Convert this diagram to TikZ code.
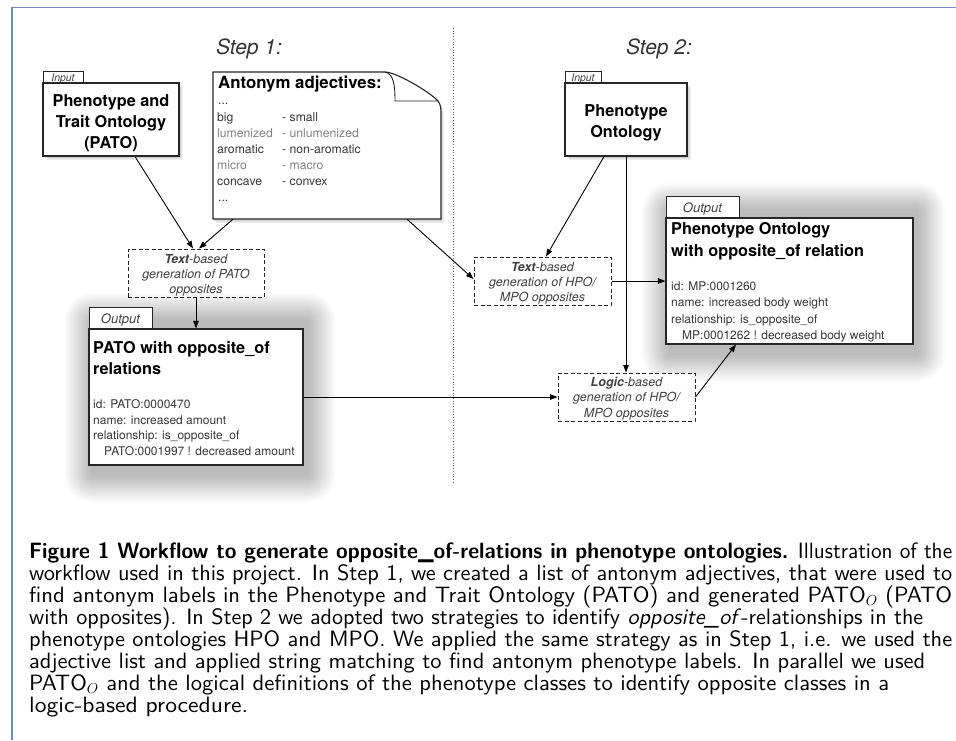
\documentclass[tikz,border=0pt]{standalone}
\usepackage{fontspec}
\usepackage{graphicx}
\newfontfamily\hv{TeX Gyre Heros}
\newfontfamily\capf{lmsans10-regular.otf}[BoldFont=lmsans10-bold.otf,ItalicFont=lmsans10-oblique.otf]
\usetikzlibrary{arrows.meta,fit,calc}
\definecolor{framec}{RGB}{110,140,185}
\definecolor{txt}{RGB}{55,55,55}
\definecolor{ltxt}{RGB}{130,130,130}
\definecolor{dtxt}{RGB}{65,65,65}
\newcommand\sshadow[4]{\foreach \s in {1,2,3,4}{\fill[black,opacity=0.06] (#1+\s,#2+\s) rectangle (#3+\s,#4+\s);}}
\newcommand\bshadow[4]{\foreach \s in {1,...,14}{\pgfmathsetmacro\r{2*\s}\fill[black,opacity=0.018,rounded corners=\r pt] (#1-\r+4,#2-\r+11) rectangle (#3+\r+4,#4+\r+9);}}
\newcommand\capline[2]{\resizebox{#1pt}{\height}{#2}}
\begin{document}
\begin{tikzpicture}[x=1pt,y=-1pt,
  box/.style={draw=black!85, line width=1.1pt, fill=white, inner sep=0pt},
  dbox/.style={draw=black!85, dash pattern=on 4pt off 2.5pt, line width=1pt, fill=white, inner sep=0pt},
  tabbox/.style={draw=black!85, line width=0.9pt, fill=white, inner sep=0pt},
  arr/.style={-{Triangle[length=7.5pt,width=5.5pt]}, line width=0.9pt, black},
  steplbl/.style={font=\hv\itshape\fontsize{21}{24}\selectfont, text=black!80, anchor=base, inner sep=0pt},
  ttl/.style={font=\hv\bfseries\fontsize{16.3}{20}\selectfont, anchor=base, inner sep=0pt},
  ttlw/.style={ttl, anchor=base west},
  intab/.style={font=\hv\itshape\fontsize{10.5}{12}\selectfont, text=black!75, anchor=base, inner sep=0pt},
  otab/.style={font=\hv\itshape\fontsize{13}{15}\selectfont, text=black!75, anchor=base, inner sep=0pt},
  bodyt/.style={font=\hv\fontsize{12}{14}\selectfont, text=txt, anchor=base west, inner sep=0pt},
  listt/.style={font=\hv\fontsize{12.2}{14}\selectfont, anchor=base west, inner sep=0pt},
  dtext/.style={font=\hv\itshape\fontsize{12.5}{14}\selectfont, text=dtxt, anchor=base, inner sep=0pt},
  captxt/.style={font=\capf\fontsize{22.2}{22}\selectfont, anchor=base west, inner sep=0pt}]
\useasboundingbox (0,0) rectangle (956,740);
\fill[white] (0,0) rectangle (956,740);
% frame
\draw[framec,line width=1.2pt] (12,740) -- (12,7.5) -- (956,7.5);
% divider
\draw[black!60, line width=0.9pt, dash pattern=on 0.9pt off 1.8pt] (453,28) -- (453,482);
% step labels
\node[steplbl] (step1) at (249,54) {Step 1:};
\node[steplbl] (step2) at (659,54) {Step 2:};

% ---- PATO input
\sshadow{43}{83}{179}{156}
\node[tabbox, fit={(43,71)(83,83)}] (patoinTab) {};
\node[intab] (patoinTabT) at (63,81) {Input};
\node[box, fit={(43,83)(179,156)}] (patoin) {};
\node[ttl] (patoin1) at (111,106) {Phenotype and};
\node[ttl] (patoin2) at (111,127) {Trait Ontology};
\node[ttl] (patoin3) at (111,148) {(PATO)};

% ---- Antonym note
\foreach \s in {1,2,3}{\fill[black,opacity=0.06,shift={(\s,\s+1)}] (213,72) -- (385,72) .. controls (396,72) and (430,92) .. (438,101) .. controls (441,105) and (441,109) .. (441,115) -- (441,219) -- (213,219) -- cycle;}
\draw[black!85,fill=white,line width=1.1pt] (213,72) -- (385,72) .. controls (396,72) and (430,92) .. (438,101) .. controls (441,105) and (441,109) .. (441,115) -- (441,219) -- (213,219) -- cycle;
\draw[black!85,line width=0.9pt] (385,72) .. controls (394,74) and (395,86) .. (395,101) -- (438,101);
\node[fit={(213,72)(441,219)}, inner sep=0pt] (anton) {};
\node[ttl, anchor=base west, font=\hv\bfseries\fontsize{16.8}{20}\selectfont] (antT) at (218,88.5) {Antonym adjectives:};
\node[listt, text=txt] (al0) at (218,104) {...};
\foreach \i/\a/\b/\c in {1/big/- small/txt, 2/lumenized/- unlumenized/ltxt, 3/aromatic/- non-aromatic/txt, 4/micro/- macro/ltxt, 5/concave/- convex/txt}{
  \node[listt, text=\c] (al\i) at (217,{105+16*\i}) {\a};
  \node[listt, text=\c] (ar\i) at (282,{105+16*\i}) {\b};
}
\node[listt, text=txt] (al6) at (218,201) {...};

% ---- Text-based PATO
\node[dbox, fit={(128,249)(264,297)}] (textP) {};
\node[dtext] (textP1) at (196,263) {\textbf{Text}-based};
\node[dtext] (textP2) at (196,278) {generation of PATO};
\node[dtext] (textP3) at (196,293) {opposites};

% ---- Output PATO
\bshadow{89}{310}{303}{465}
\node[tabbox, fit={(89,307)(152,329)}] (outPTab) {};
\node[otab] (outPTabT) at (120.5,323) {Output};
\node[box, fit={(89,329)(303,465)}] (outP) {};
\node[ttlw] (outP1) at (93,353) {PATO with opposite\_of};
\node[ttlw] (outP2) at (93,374) {relations};
\node[bodyt] (outP3) at (93,408) {id: PATO:0000470};
\node[bodyt] (outP4) at (93,424) {name: increased amount};
\node[bodyt] (outP5) at (93,439.5) {relationship: is\_opposite\_of};
\node[bodyt] (outP6) at (104,455) {PATO:0001997 ! decreased amount};

% ---- Phenotype Ontology input
\sshadow{565}{83}{687}{156}
\node[tabbox, fit={(565,71)(601,83)}] (poinTab) {};
\node[intab] (poinTabT) at (583,81) {Input};
\node[box, fit={(565,83)(687,156)}] (poin) {};
\node[ttl] (poin1) at (626,116) {Phenotype};
\node[ttl] (poin2) at (626,137) {Ontology};

% ---- Text-based HPO/MPO
\node[dbox, fit={(474,257)(611,305)}] (textH) {};
\node[dtext] (textH1) at (542.5,271) {\textbf{Text}-based};
\node[dtext] (textH2) at (542.5,286) {generation of HPO/};
\node[dtext] (textH3) at (542.5,301) {MPO opposites};

% ---- Output PO
\bshadow{666}{200}{913}{344}
\node[tabbox, fit={(666,196)(739,218)}] (outPOTab) {};
\node[otab] (outPOTabT) at (702.5,212) {Output};
\node[box, fit={(666,218)(913,344)}] (outPO) {};
\node[ttlw] (outPO1) at (671,234) {Phenotype Ontology};
\node[ttlw] (outPO2) at (671,256) {with opposite\_of relation};
\node[bodyt] (outPO3) at (671,290) {id: MP:0001260};
\node[bodyt] (outPO4) at (671,306.5) {name: increased body weight};
\node[bodyt] (outPO5) at (671,323) {relationship: is\_opposite\_of};
\node[bodyt] (outPO6) at (682,339.5) {MP:0001262 ! decreased body weight};

% ---- Logic-based
\node[dbox, fit={(558,373)(695,421)}] (logic) {};
\node[dtext] (logic1) at (626.5,386) {\textbf{Logic}-based};
\node[dtext] (logic2) at (626.5,401.5) {generation of HPO/};
\node[dtext] (logic3) at (626.5,417) {MPO opposites};

% ---- connectors
\draw[arr] ([xshift=24pt]patoin.south) -- ([xshift=-3pt]textP.north);
\draw[arr] ([xshift=-94pt]anton.south) -- ([xshift=3pt]textP.north);
\draw[arr] (textP.south) -- (textP.south |- outP.north);
\draw[arr] (outP.east) -- (outP.east -| logic.west);
\draw[arr] ([xshift=80pt]anton.south) -- ([yshift=2pt]textH.west);
\draw[arr] ([xshift=-22pt]poin.south) -- ([xshift=3.5pt]textH.north);
\draw[arr] (poin.south) -- (poin.south |- logic.north);
\draw[arr] (textH.east) -- (textH.east -| outPO.west);
\draw[arr] (logic.east) -- ([xshift=-53.5pt]outPO.south);

% ---- caption
\node[captxt] (cap1) at (29,558) {\capline{923}{\textbf{Figure 1 Workflow to generate opposite\_of-relations in phenotype ontologies.} Illustration of the}};
\node[captxt] (cap2) at (29,580) {\capline{923}{workflow used in this project. In Step 1, we created a list of antonym adjectives, that were used to}};
\node[captxt] (cap3) at (29,602) {\capline{923}{find antonym labels in the Phenotype and Trait Ontology (PATO) and generated PATO$_O$ (PATO}};
\node[captxt] (cap4) at (29,624) {\capline{894}{with opposites). In Step 2 we adopted two strategies to identify \textit{opposite\_of}-relationships in the}};
\node[captxt] (cap5) at (29,646) {\capline{923}{phenotype ontologies HPO and MPO. We applied the same strategy as in Step 1, i.e. we used the}};
\node[captxt] (cap6) at (29,668) {\capline{896}{adjective list and applied string matching to find antonym phenotype labels. In parallel we used}};
\node[captxt] (cap7) at (29,690) {\capline{860}{PATO$_O$ and the logical definitions of the phenotype classes to identify opposite classes in a}};
\node[captxt] (cap8) at (29,712) {\capline{219}{logic-based procedure.}};
\end{tikzpicture}
\end{document}
